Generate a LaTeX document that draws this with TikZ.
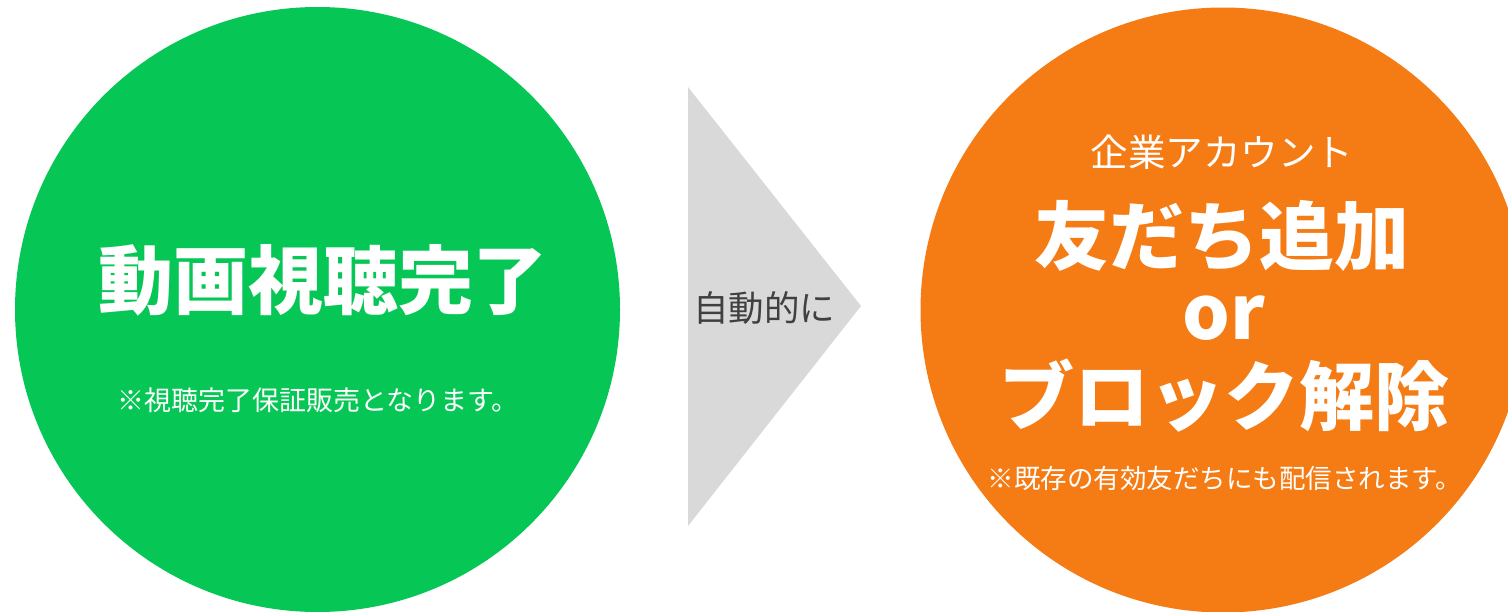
\documentclass[tikz,border=0pt]{standalone}
\usepackage{fontspec}
\newfontfamily\cjk{Noto Sans CJK JP}
\definecolor{lgreen}{HTML}{06C755}
\definecolor{lorange}{HTML}{F57B14}
\definecolor{lgray}{HTML}{D9D9D9}
\definecolor{dtext}{HTML}{404040}
\tikzset{
  disc/.style={circle, draw=none, inner sep=0pt, minimum size=#1},
  bigtxt/.style={text=white, inner sep=0pt, font=\cjk\bfseries\fontsize{75}{75}\selectfont},
  smalltxt/.style={text=white, inner sep=0pt, font=\cjk\fontsize{#1}{#1}\selectfont},
}
\begin{document}
\begin{tikzpicture}[x=1pt,y=-1pt]
\useasboundingbox (0,0) rectangle (1508,611);
\clip (0,0) rectangle (1508,611);
\node[disc=605pt, fill=lgreen] (gc) at (317.5,309.5) {};
\node[disc=605pt, fill=lorange] (oc) at (1223,310) {};
\coordinate (ta) at (688,87);
\coordinate (tb) at (688,526);
\coordinate (tc) at (861,306);
\fill[lgray] (ta) -- (tc) -- (tb) -- cycle;
\node[text=dtext, inner sep=0pt, font=\cjk\fontsize{35.5}{35.5}\selectfont] (auto) at (764,308) {自動的に};
\node[bigtxt] (g1) at (323,280) {動画視聴完了};
\node[smalltxt=27] (g2) at (318,400) {※視聴完了保証販売となります。};
\node[smalltxt=37.5] (o1) at (1222,152) {企業アカウント};
\node[bigtxt] (o2) at (1222,236) {友だち追加};
\node[bigtxt] (o3) at (1224,318) {or};
\node[bigtxt] (o4) at (1224,396) {ブロック解除};
\node[smalltxt=26.5] (o5) at (1225,478) {※既存の有効友だちにも配信されます。};
\end{tikzpicture}
\end{document}
